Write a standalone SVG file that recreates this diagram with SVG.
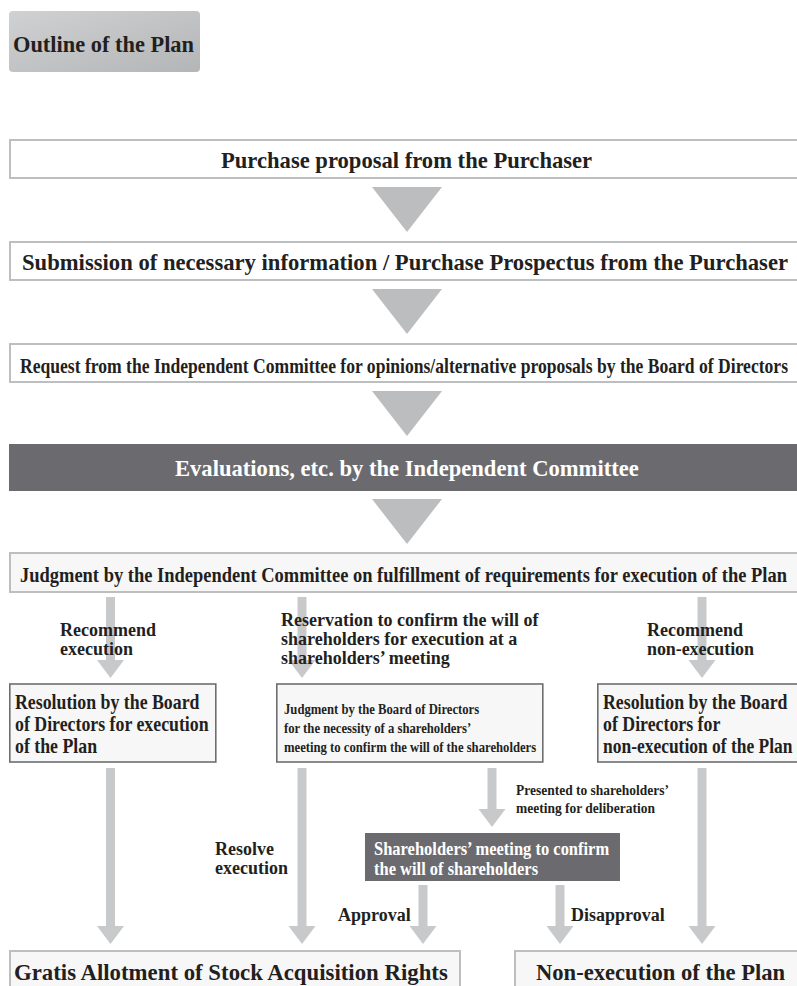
<svg xmlns="http://www.w3.org/2000/svg" width="797" height="986" viewBox="0 0 797 986">
<defs>
<linearGradient id="tg" x1="0" y1="0" x2="1" y2="1">
<stop offset="0" stop-color="#d0d1d3"/>
<stop offset="1" stop-color="#b4b5b7"/>
</linearGradient>
<style>
text{font-family:"Liberation Serif","Times New Roman",serif;font-weight:bold;fill:#231f20}
.lt{fill:#fff}
.bar{fill:#fff;stroke:#bdbec0;stroke-width:2}
.barf{fill:#f7f7f7;stroke:#bdbec0;stroke-width:2}
.dk{fill:#6b6b6f}
.bx{fill:#f7f7f7;stroke:#6d6e71;stroke-width:1.6}
.tri{fill:#bcbdbf}
.ar{fill:#c8c9cb}
.lb{font-size:18px}
</style>
</defs>
<rect width="797" height="986" fill="#fff"/>

<g id="title">
<rect x="9" y="11" width="191" height="61" rx="4" fill="url(#tg)"/>
<text x="13" y="52" font-size="22.4">Outline of the Plan</text>
</g>

<g id="n1">
<rect class="bar" x="10" y="140" width="800" height="38"/>
<text x="221" y="168" font-size="22.6">Purchase proposal from the Purchaser</text>
</g>
<g id="n2">
<rect class="bar" x="10" y="242" width="800" height="38"/>
<text x="22" y="270" font-size="22.6" textLength="766" lengthAdjust="spacingAndGlyphs">Submission of necessary information / Purchase Prospectus from the Purchaser</text>
</g>
<g id="n3">
<rect class="bar" x="10" y="344" width="800" height="38"/>
<text x="20" y="373" font-size="21" textLength="768" lengthAdjust="spacingAndGlyphs">Request from the Independent Committee for opinions/alternative proposals by the Board of Directors</text>
</g>
<g id="n4">
<rect class="dk" x="9" y="444" width="800" height="47"/>
<text class="lt" x="175" y="476" font-size="22.6">Evaluations, etc. by the Independent Committee</text>
</g>
<g id="n5">
<rect class="barf" x="10" y="553" width="800" height="39"/>
<text x="20" y="582" font-size="21" textLength="767" lengthAdjust="spacingAndGlyphs">Judgment by the Independent Committee on fulfillment of requirements for execution of the Plan</text>
</g>

<g id="n6">
<rect class="bx" x="9.8" y="684" width="206" height="78"/>
<text font-size="22" transform="matrix(0.81,0,0,1,15,0)"><tspan x="0" y="709">Resolution by the Board</tspan><tspan x="0" y="731">of Directors for execution</tspan><tspan x="0" y="753">of the Plan</tspan></text>
</g>
<g id="n7">
<rect class="bx" x="276.8" y="684" width="266" height="78"/>
<text font-size="14.5" transform="matrix(0.875,0,0,1,284,0)"><tspan x="0" y="714">Judgment by the Board of Directors</tspan><tspan x="0" y="733">for the necessity of a shareholders’</tspan><tspan x="0" y="752">meeting to confirm the will of the shareholders</tspan></text>
</g>
<g id="n8">
<rect class="bx" x="597.8" y="684" width="210" height="78"/>
<text font-size="22" transform="matrix(0.81,0,0,1,603,0)"><tspan x="0" y="709">Resolution by the Board</tspan><tspan x="0" y="731">of Directors for</tspan><tspan x="0" y="753" textLength="234" lengthAdjust="spacingAndGlyphs">non-execution of the Plan</tspan></text>
</g>
<g id="n9">
<rect class="dk" x="365" y="833" width="255" height="48"/>
<text class="lt" font-size="19" transform="matrix(0.868,0,0,1,374,0)"><tspan x="0" y="855">Shareholders’ meeting to confirm</tspan><tspan x="0" y="875">the will of shareholders</tspan></text>
</g>
<g id="n10">
<rect class="barf" x="10" y="951" width="450" height="45"/>
<text x="14" y="980" font-size="22.8">Gratis Allotment of Stock Acquisition Rights</text>
</g>
<g id="n11">
<rect class="barf" x="515" y="951" width="300" height="45"/>
<text x="536" y="980" font-size="22.6">Non-execution of the Plan</text>
</g>

<g id="connectors">
<polygon class="tri" points="372,187 442,187 407,232"/>
<polygon class="tri" points="372,289 442,289 407,334"/>
<polygon class="tri" points="372,391 442,391 407,436"/>
<polygon class="tri" points="372,499 442,499 407,544"/>

<polygon class="ar" points="106,597 115,597 115,660 124,660 110.5,678 97,660 106,660"/>
<polygon class="ar" points="297.5,597 306.5,597 306.5,660 315.5,660 302,678 288.5,660 297.5,660"/>
<polygon class="ar" points="697.5,597 706.5,597 706.5,660 715.5,660 702,678 688.5,660 697.5,660"/>

<polygon class="ar" points="106,768 115,768 115,926 124,926 110.5,944 97,926 106,926"/>
<polygon class="ar" points="297.5,768 306.5,768 306.5,926 315.5,926 302,944 288.5,926 297.5,926"/>
<polygon class="ar" points="697.5,768 706.5,768 706.5,926 715.5,926 702,944 688.5,926 697.5,926"/>

<polygon class="ar" points="487.5,768 496.5,768 496.5,809 505.5,809 492,827 478.5,809 487.5,809"/>
<polygon class="ar" points="418.5,885 427.5,885 427.5,926 436.5,926 423,944 409.5,926 418.5,926"/>
<polygon class="ar" points="555.5,885 564.5,885 564.5,926 573.5,926 560,944 546.5,926 555.5,926"/>

<text class="lb"><tspan x="60" y="636">Recommend</tspan><tspan x="60" y="655">execution</tspan></text>
<text class="lb"><tspan x="281" y="626">Reservation to confirm the will of</tspan><tspan x="281" y="645">shareholders for execution at a</tspan><tspan x="281" y="664">shareholders’ meeting</tspan></text>
<text class="lb"><tspan x="647" y="636">Recommend</tspan><tspan x="647" y="655" textLength="107" lengthAdjust="spacing">non-execution</tspan></text>
<text font-size="15.5" transform="matrix(0.87,0,0,1,516,0)"><tspan x="0" y="795">Presented to shareholders’</tspan><tspan x="0" y="813">meeting for deliberation</tspan></text>
<text class="lb"><tspan x="215" y="855">Resolve</tspan><tspan x="215" y="874">execution</tspan></text>
<text class="lb" x="338" y="921">Approval</text>
<text class="lb" x="571" y="921">Disapproval</text>
</g>
</svg>
